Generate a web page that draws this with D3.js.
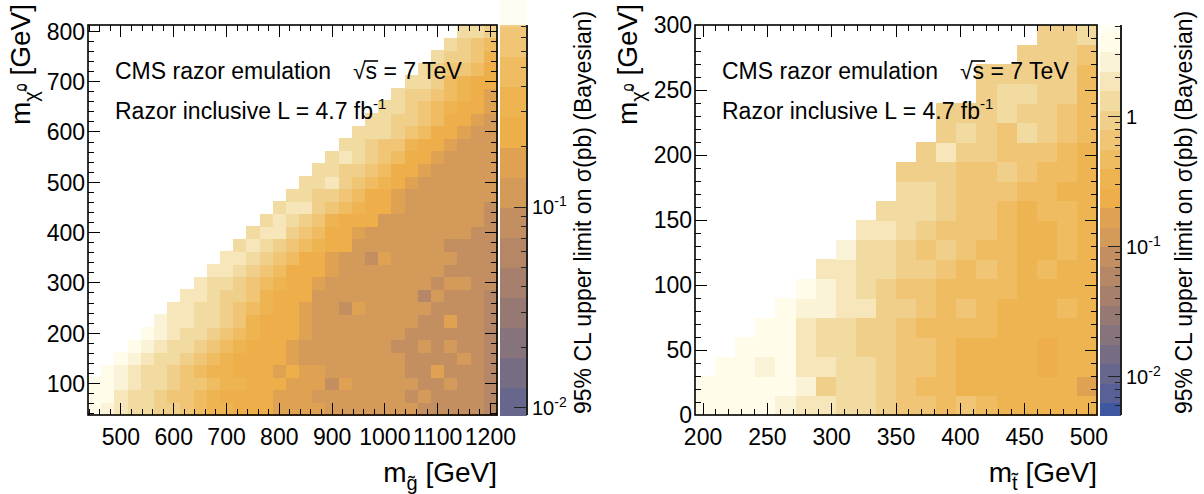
<!DOCTYPE html>
<html><head><meta charset="utf-8">
<script src="https://cdn.jsdelivr.net/npm/d3@7/dist/d3.min.js"></script>
<style>
body{margin:0;background:#fff;}
svg{display:block;}
text{font-family:"Liberation Sans",Arial,Helvetica,sans-serif;fill:#000;}
</style></head><body>
<svg id="chart" width="1204" height="494" xmlns="http://www.w3.org/2000/svg"></svg>
<script>
// ================= DATA =================
// bin centres (categories)
const gluinoMass = d3.range(450, 1201, 25);      // left x bins (GeV)
const lspMassLeft = d3.range(50, 801, 25);       // left y bins (GeV)
const stopMass = d3.range(201.5625, 506, 15.625); // right x bins (GeV)
const lspMassRight = d3.range(7.5, 300, 15);     // right y bins (GeV)

// value levels (pb)
const levelCodes  = "abcdefghijklm";
const levelValues = [3.8, 2.6, 1.9, 1.3, 0.9, 0.65, 0.45, 0.32, 0.24, 0.16, 0.115, 0.08, 0.06];

// left: gluino; row 0 = lowest LSP mass; each string ends at the highest gluino bin
const gluinoLimits = [
  "abcddeefghhiiijjjjkkkkkkklllllm",
  "aacddeffghiiiijjjkkkkkkklkllllm",
  "aabcddeffghhiiijjjljkkkkkllkllm",
  "abcddefghhiiijijjkkkkkklljlllm",
  "abcddefghiiiijkkkkkkkkllllklm",
  "abcddefghiiijkkkkkkkllklkllm",
  "abcddefghiiijkkkkkkkllllllm",
  "bccddefhiiijkkkkkkkklljllm",
  "ccddefghiijkkljkkkkkllllm",
  "ccdeefhiiikkkkkkkkmklllm",
  "cddefghiijkkkkkkkklkkll",
  "ccdefgiiijkkkkkkkkllll",
  "ccdefgiijkkljkkkkklll",
  "dcdefghiikkkkkkkllll",
  "dccefgiijkkkkkkkkll",
  "dcdefhiiikkkkkkkkl",
  "dccefghiijkkkkkkl",
  "ddeefgiijkkkkkkk",
  "ddcefghijkkkkkk",
  "ddeefgiijkkkkk",
  "dcdefgiijkkkk",
  "ddeffhiijkkk",
  "dddefgiijkk",
  "ddeefgiijk",
  "ddefghiij",
  "deefghij",
  "ddeghii",
  "deffgi",
  "deefh",
  "defg",
  "dde"
];

// right: stop; row 0 = lowest LSP mass
const stopLimits = [
  "aaaabccddeffgfghhhhh",
  "aaaaabeddefgghhhhhhj",
  "aabaccddeffghhhhihh",
  "aaacddeeffghhhhihh",
  "aacddeefgggghhhhh",
  "abbcceefgfghhhgh",
  "abcdeffgggghhhh",
  "ccddeefgfghghh",
  "bddefefgghhgh",
  "ccdefffghhgh",
  "dddeffghggh",
  "ddefffgghh",
  "eeeffefggh",
  "eceefffgh",
  "edefdefg",
  "eeedeefg",
  "eddeeg",
  "eeeeeg",
  "eeef",
  "eed"
];

// tick labels
const leftXTicks  = [500, 600, 700, 800, 900, 1000, 1100, 1200];
const leftYTicks  = [100, 200, 300, 400, 500, 600, 700, 800];
const rightXTicks = [200, 250, 300, 350, 400, 450, 500];
const rightYTicks = [0, 50, 100, 150, 200, 250, 300];
const leftZTicks  = [0.01, 0.1];
const rightZTicks = [0.01, 0.1, 1];

// colour palette: log10(sigma) band edges and colours
const paletteLogEdges = [-2.2,-2.05,-1.9,-1.75,-1.6,-1.45,-1.3,-1.15,-1.0,-0.85,-0.7,-0.55,-0.4,-0.25,-0.1,0.05,0.2,0.35,0.5,0.65];
const paletteColors = ["#3F57A0","#586096","#67678E","#766D85","#86737C","#977973","#A67F6D","#B58767","#C48F60","#D39A5A","#DFA252","#EEAE4A","#EFB452","#F0BC62","#F0C676","#F0CF8A","#F2DBA0","#F6E6BA","#FBF3D8","#FFFCEA","#FFFDF2"];

// ================= DRAWING =================
const svg = d3.select("#chart");
const color = d3.scaleThreshold().domain(paletteLogEdges).range(paletteColors);
const TICKFONT = 23, TITLEFONT = 28;

function drawPanel(p) {
  const g = svg.append("g");
  const x = d3.scaleLinear().domain(p.xDomain).range([p.left, p.right]);
  const y = d3.scaleLinear().domain(p.yDomain).range([p.bottom, p.top]);
  const xw = p.xCenters[1] - p.xCenters[0], yw = p.yCenters[1] - p.yCenters[0];
  const cells = [];
  p.rows.forEach((str, j) => {
    const n = p.xCenters.length;
    for (let k = 0; k < str.length; k++) {
      const i = n - str.length + k;
      cells.push({xc: p.xCenters[i], yc: p.yCenters[j], v: levelValues[levelCodes.indexOf(str[k])]});
    }
  });
  g.append("g").attr("shape-rendering", "crispEdges").selectAll("rect").data(cells).join("rect")
    .attr("x", d => x(d.xc - xw / 2))
    .attr("y", d => y(d.yc + yw / 2))
    .attr("width", d => x(d.xc + xw / 2) - x(d.xc - xw / 2) + 0.6)
    .attr("height", d => y(d.yc - yw / 2) - y(d.yc + yw / 2) + 0.6)
    .attr("fill", d => color(Math.log10(d.v)));

  // ticks on all four sides
  const tg = g.append("g").attr("stroke", "#000").attr("stroke-width", 1).attr("shape-rendering", "crispEdges");
  const inX = v => x(v) > p.left + 0.5 && x(v) < p.right - 0.5;
  const inY = v => y(v) < p.bottom - 0.5 && y(v) > p.top + 0.5;
  const xMinor = x.ticks(p.xMinorN).filter(inX), yMinor = y.ticks(p.yMinorN).filter(inY);
  const xMaj = new Set(p.xTicks), yMaj = new Set(p.yTicks);
  xMinor.forEach(v => {
    const L = xMaj.has(v) ? 12 : 6;
    tg.append("line").attr("x1", x(v)).attr("x2", x(v)).attr("y1", p.bottom).attr("y2", p.bottom - L);
    tg.append("line").attr("x1", x(v)).attr("x2", x(v)).attr("y1", p.top).attr("y2", p.top + L);
  });
  yMinor.forEach(v => {
    const L = yMaj.has(v) ? 12 : 6;
    tg.append("line").attr("y1", y(v)).attr("y2", y(v)).attr("x1", p.left).attr("x2", p.left + L);
    tg.append("line").attr("y1", y(v)).attr("y2", y(v)).attr("x1", p.right).attr("x2", p.right - L);
  });
  g.append("rect").attr("x", p.left).attr("y", p.top).attr("width", p.right - p.left).attr("height", p.bottom - p.top)
    .attr("fill", "none").attr("stroke", "#000").attr("stroke-width", 1.6);

  // tick labels
  g.selectAll("text.xl").data(p.xTicks).join("text").attr("class", "xl")
    .attr("x", d => x(d)).attr("y", p.bottom + 30).attr("text-anchor", "middle").attr("font-size", TICKFONT).text(d => d);
  g.selectAll("text.yl").data(p.yTicks).join("text").attr("class", "yl")
    .attr("x", p.left - 3).attr("y", d => y(d)).attr("dy", "0.36em").attr("text-anchor", "end").attr("font-size", TICKFONT).text(d => d);

  // x title
  const xt = g.append("text").attr("x", p.right).attr("y", p.bottom + 67).attr("text-anchor", "end").attr("font-size", TITLEFONT);
  xt.append("tspan").text("m");
  xt.append("tspan").attr("dy", 8).attr("font-size", 20).text(p.xSub);
  xt.append("tspan").attr("dy", -8).text(" [GeV]");

  // y title
  const yt = g.append("text").attr("transform", `translate(${p.left - 58},4) rotate(-90)`)
    .attr("text-anchor", "end").attr("font-size", TITLEFONT);
  yt.append("tspan").text("m");
  yt.append("tspan").attr("dy", 8).attr("font-size", 20).text("\u03C7\u0303");
  yt.append("tspan").attr("dy", -11).attr("font-size", 14).text("0");
  yt.append("tspan").attr("dy", 3).text(" [GeV]");

  // annotations
  const ax = p.left + 27;
  g.append("text").attr("x", ax).attr("y", 79).attr("font-size", 23).text("CMS razor emulation");
  const rs = g.append("text").attr("x", ax + 238).attr("y", 79).attr("font-size", 23).text("\u221As = 7 TeV");
  const n0 = rs.node();
  const xa = n0.getEndPositionOfChar(0).x - 1.5, xb = n0.getEndPositionOfChar(1).x + 1;
  g.append("line").attr("x1", xa).attr("x2", xb).attr("y1", 79 - 18).attr("y2", 79 - 18).attr("stroke", "#000").attr("stroke-width", 1.6);
  const ri = g.append("text").attr("x", ax).attr("y", 119).attr("font-size", 23);
  ri.append("tspan").text("Razor inclusive L = 4.7 fb");
  ri.append("tspan").attr("dy", -10).attr("font-size", 15).text("-1");
}

function drawColorbar(c) {
  const g = svg.append("g");
  const z = d3.scaleLog().domain(c.zDomain).range([c.bottom, c.top]);
  const lz = c.zDomain.map(Math.log10);
  const edges = [-Infinity, ...paletteLogEdges, Infinity];
  const bands = paletteColors.map((col, k) => ({lo: Math.max(edges[k], lz[0]), hi: Math.min(edges[k + 1], lz[1]), col}))
    .filter(b => b.hi > b.lo);
  if (c.overflowTop) {
    g.append("rect").attr("x", c.x0).attr("y", 0).attr("width", c.x1 - c.x0).attr("height", c.top)
      .attr("fill", color(lz[1] + 0.75));
  }
  g.append("g").attr("shape-rendering", "crispEdges").selectAll("rect").data(bands).join("rect")
    .attr("x", c.x0).attr("width", c.x1 - c.x0)
    .attr("y", b => z(10 ** b.hi)).attr("height", b => z(10 ** b.lo) - z(10 ** b.hi) + 0.5)
    .attr("fill", b => b.col);
  const tg = g.append("g").attr("stroke", "#222").attr("stroke-width", 1).attr("shape-rendering", "crispEdges");
  tg.append("line").attr("x1", c.x1).attr("x2", c.x1).attr("y1", c.top).attr("y2", c.bottom).attr("stroke-width", 1.6);
  const minor = [];
  for (let d = Math.floor(lz[0]); d <= Math.ceil(lz[1]); d++)
    for (let m = 1; m <= 9; m++) { const v = m * 10 ** d; if (v >= c.zDomain[0] && v <= c.zDomain[1]) minor.push({v, major: m === 1}); }
  minor.forEach(t => tg.append("line").attr("x1", c.x1).attr("x2", c.x1 - (t.major ? 13 : 6.5)).attr("y1", z(t.v)).attr("y2", z(t.v)));
  c.ticks.forEach(v => {
    const e = Math.round(Math.log10(v));
    const t = g.append("text").attr("x", c.x1 + 5).attr("y", z(v)).attr("dy", "0.36em").attr("font-size", 20);
    if (e === 0) t.text("1");
    else { t.append("tspan").text("10"); t.append("tspan").attr("dy", -8).attr("font-size", 14).text(String(e)); }
  });
  g.append("text").attr("transform", `translate(${c.titleX},${c.bottom - 1}) rotate(-90)`)
    .attr("font-size", 23).text("95% CL upper limit on \u03C3(pb) (Bayesian)");
}

drawPanel({left: 88, right: 497, top: 25, bottom: 415,
  xDomain: [437.5, 1212.5], yDomain: [37.5, 812.5],
  xCenters: gluinoMass, yCenters: lspMassLeft, rows: gluinoLimits,
  xTicks: leftXTicks, yTicks: leftYTicks, xMinorN: 40, yMinorN: 40, xSub: "g\u0303"});
drawColorbar({x0: 500, x1: 527, top: 25, bottom: 415, zDomain: [0.0092, 0.81], ticks: leftZTicks, titleX: 591, overflowTop: true});

drawPanel({left: 695, right: 1097, top: 25, bottom: 415,
  xDomain: [193.75, 506.25], yDomain: [0, 300],
  xCenters: stopMass, yCenters: lspMassRight, rows: stopLimits,
  xTicks: rightXTicks, yTicks: rightYTicks, xMinorN: 30, yMinorN: 30, xSub: "t\u0303"});
drawColorbar({x0: 1100, x1: 1121, top: 25, bottom: 415, zDomain: [0.0051, 5.1], ticks: rightZTicks, titleX: 1192, overflowTop: false});
</script>
</body></html>
